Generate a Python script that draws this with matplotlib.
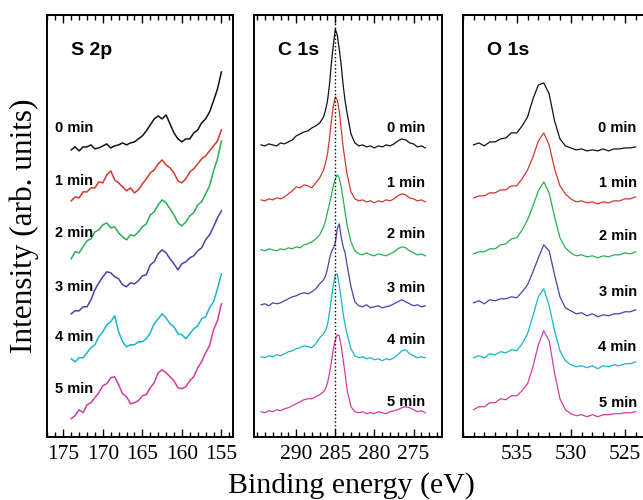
"""Stacked XPS core-level spectra (S 2p, C 1s, O 1s) versus sputter time."""

import matplotlib.pyplot as plt
from matplotlib.ticker import MultipleLocator

plt.rcParams["font.family"] = ["Liberation Serif", "DejaVu Serif"]

TIMES = ["0 min", "1 min", "2 min", "3 min", "4 min", "5 min"]
COLOURS = ["#111111", "#d0392e", "#2aae52", "#4545a8", "#17b5cc", "#d83a9e"]

# S 2p region
S2P_ENERGY = [174.0, 173.5, 173.0, 172.5, 172.0, 171.5, 171.0, 170.5, 170.0, 169.5,
              169.0, 168.5, 168.0, 167.5, 167.0, 166.5, 166.0, 165.5, 165.0, 164.5,
              164.0, 163.5, 163.0, 162.5, 162.0, 161.5, 161.0, 160.5, 160.0, 159.5,
              159.0, 158.5, 158.0, 157.5, 157.0, 156.5, 156.0, 155.5, 155.0]
S2P_0 = [287, 290, 286, 290, 290, 292, 288, 289, 291, 293, 289, 291, 292, 294, 292, 294, 295, 298, 301, 306,
         312, 318, 321, 318, 322, 313, 304, 298, 295, 298, 298, 304, 307, 314, 318, 325, 336, 348, 365]
S2P_1 = [236, 240, 239, 245, 245, 249, 249, 255, 254, 262, 266, 257, 254, 250, 246, 249, 244, 247, 253, 258,
         264, 267, 273, 277, 272, 269, 264, 256, 254, 258, 265, 268, 273, 278, 281, 286, 291, 296, 307]
S2P_2 = [178, 185, 184, 190, 196, 198, 205, 207, 212, 214, 209, 210, 204, 200, 197, 202, 201, 205, 210, 213,
         222, 225, 232, 237, 234, 228, 222, 214, 211, 215, 221, 224, 232, 235, 243, 251, 266, 278, 296]
S2P_3 = [123, 126, 126, 130, 130, 137, 147, 154, 160, 165, 164, 160, 158, 152, 150, 154, 153, 156, 161, 162,
         172, 175, 183, 187, 184, 178, 173, 167, 173, 175, 179, 181, 186, 189, 197, 202, 210, 219, 226]
S2P_4 = [78, 75, 79, 79, 84, 89, 92, 100, 105, 112, 115, 121, 105, 95, 90, 92, 92, 95, 95, 98,
         104, 113, 118, 123, 119, 113, 110, 103, 102, 98, 103, 108, 111, 118, 120, 129, 135, 148, 163]
S2P_5 = [18, 21, 27, 24, 32, 34, 39, 44, 51, 53, 59, 60, 52, 43, 40, 33, 34, 36, 41, 42,
         49, 54, 64, 67, 64, 60, 56, 49, 48, 50, 56, 60, 69, 75, 84, 91, 107, 116, 133]

# C 1s region
C1S_ENERGY = [294.5, 294.0, 293.5, 293.0, 292.5, 292.0, 291.5, 291.0, 290.5, 290.0,
              289.5, 289.0, 288.5, 288.0, 287.5, 287.0, 286.5,
              286.25, 286.0, 285.75, 285.5, 285.25, 285.0, 284.75, 284.5, 284.25, 284.0, 283.75,
              283.5, 283.0, 282.5, 282.0, 281.5, 281.0, 280.5, 280.0, 279.5, 279.0,
              278.5, 278.0, 277.5, 277.0, 276.5, 276.0, 275.5, 275.0, 274.5, 274.0, 273.5]
C1S_0 = [292, 291, 293, 292, 291, 294, 293, 295, 297, 301, 303, 305, 306, 309, 311, 314, 320,
         327, 336, 352, 374, 392, 408, 402, 388, 372, 352, 336,
         324, 303, 294, 291, 292, 290, 291, 289, 291, 290, 292, 291, 293, 296, 298, 297, 294, 293, 290, 291, 289]
C1S_1 = [237, 236, 238, 237, 239, 238, 240, 243, 246, 250, 249, 252, 251, 249, 254, 259, 267,
         274, 283, 298, 316, 331, 340, 337, 326, 308, 290, 276,
         263, 245, 238, 236, 237, 235, 236, 234, 236, 235, 237, 236, 238, 241, 243, 242, 239, 238, 236, 237, 235]
C1S_2 = [187, 186, 188, 187, 186, 188, 187, 189, 188, 190, 189, 192, 193, 195, 198, 202, 210,
         216, 225, 233, 242, 251, 258, 262, 259, 250, 238, 225,
         212, 195, 186, 183, 182, 184, 182, 181, 183, 182, 181, 183, 185, 188, 190, 189, 186, 184, 182, 183, 181]
C1S_3 = [132, 133, 131, 134, 133, 134, 136, 138, 140, 141, 143, 144, 143, 145, 148, 153, 157,
         161, 168, 178, 185, 189, 194, 208, 213, 200, 190, 184,
         172, 150, 135, 131, 130, 132, 129, 130, 131, 129, 130, 131, 133, 135, 137, 135, 133, 131, 132, 130, 131]
C1S_4 = [80, 79, 81, 80, 82, 81, 83, 85, 86, 88, 89, 91, 90, 89, 93, 99, 103,
         106, 112, 124, 138, 152, 162, 163, 152, 138, 123, 112,
         103, 88, 81, 79, 80, 78, 79, 77, 78, 76, 78, 77, 79, 82, 86, 87, 83, 81, 79, 80, 79]
C1S_5 = [25, 24, 26, 25, 27, 26, 28, 29, 31, 33, 35, 37, 38, 38, 40, 42, 45,
         48, 54, 63, 75, 88, 97, 102, 101, 91, 77, 63,
         47, 30, 25, 24, 25, 23, 24, 23, 25, 24, 23, 25, 26, 27, 29, 30, 29, 27, 25, 26, 24]

# O 1s region
O1S_ENERGY = [539.0, 538.5, 538.0, 537.5, 537.0, 536.5, 536.0, 535.5, 535.0, 534.5,
              534.0, 533.5, 533.0, 532.5, 532.0, 531.5, 531.0, 530.5, 530.0, 529.5,
              529.0, 528.5, 528.0, 527.5, 527.0, 526.5, 526.0, 525.5, 525.0, 524.5, 524.0]
O1S_0 = [292, 294, 291, 295, 295, 298, 299, 304, 304, 311, 320, 338, 352, 354, 343, 316, 298, 291, 289, 287,
         288, 286, 287, 286, 288, 286, 288, 288, 289, 289, 290]
O1S_1 = [239, 241, 241, 244, 244, 247, 247, 251, 251, 258, 267, 280, 296, 304, 292, 268, 251, 243, 238, 235,
         236, 234, 235, 233, 235, 234, 236, 236, 238, 238, 240]
O1S_2 = [183, 185, 185, 188, 188, 192, 193, 198, 199, 207, 217, 231, 246, 255, 244, 220, 199, 189, 184, 181,
         182, 180, 181, 179, 181, 180, 182, 182, 184, 183, 185]
O1S_3 = [134, 136, 133, 137, 136, 138, 138, 140, 139, 145, 152, 165, 179, 192, 186, 162, 140, 129, 126, 123,
         124, 121, 123, 120, 122, 121, 123, 123, 125, 125, 127]
O1S_4 = [79, 81, 79, 83, 82, 85, 84, 87, 86, 93, 103, 121, 140, 148, 131, 106, 86, 76, 72, 70,
         71, 69, 71, 68, 71, 70, 72, 71, 73, 73, 75]
O1S_5 = [27, 30, 30, 34, 34, 38, 37, 41, 41, 46, 53, 70, 92, 106, 96, 64, 38, 27, 23, 21,
         22, 20, 22, 20, 22, 22, 23, 23, 24, 24, 25]


def plot_panel(ax, energy, spectra, title, xlim, ticks, label_x, label_ys, label_ha, lw=0.9):
    for spec, colour in zip(spectra, COLOURS):
        ax.plot(energy, spec, color=colour, lw=lw)
    for text, y in zip(TIMES, label_ys):
        ax.text(label_x, y, text, ha=label_ha, va="baseline", fontsize=10.5,
                fontweight="bold", family="Liberation Sans")
    ax.text(0.13, 0.905, title, transform=ax.transAxes, fontsize=14,
            fontweight="bold", family="Liberation Sans", va="baseline")

    ax.set_xlim(*xlim)
    ax.set_ylim(0, 422)
    ax.set_yticks([])
    ax.set_xticks(ticks)
    ax.xaxis.set_minor_locator(MultipleLocator(1))
    ax.tick_params(axis="x", which="both", direction="in", top=True, bottom=True,
                   labelsize=15.5, pad=6, width=1)
    ax.tick_params(axis="x", which="major", length=6)
    ax.tick_params(axis="x", which="minor", length=3.5)
    for spine in ax.spines.values():
        spine.set_linewidth(1.4)


def main():
    fig = plt.figure(figsize=(6.43, 5.0), dpi=100)
    bottom, height = 0.1266, 0.8434
    ax_s = fig.add_axes([0.0726, bottom, 0.2902, height])
    ax_c = fig.add_axes([0.3950, bottom, 0.2919, height])
    ax_o = fig.add_axes([0.7196, bottom, 0.2908, height])

    plot_panel(ax_s, S2P_ENERGY, [S2P_0, S2P_1, S2P_2, S2P_3, S2P_4, S2P_5], "S 2p",
               (177.1, 153.5), [175, 170, 165, 160, 155], 176.05,
               [305, 252, 200, 146, 96, 44], "left", lw=1.1)
    plot_panel(ax_c, C1S_ENERGY, [C1S_0, C1S_1, C1S_2, C1S_3, C1S_4, C1S_5], "C 1s",
               (295.4, 271.4), [290, 285, 280, 275], 273.5,
               [305, 250, 199, 145, 93, 31], "right")
    plot_panel(ax_o, O1S_ENERGY, [O1S_0, O1S_1, O1S_2, O1S_3, O1S_4, O1S_5], "O 1s",
               (540.0, 522.7), [535, 530, 525], 523.9,
               [305, 250, 197, 141, 86, 30], "right")

    # C 1s reference position
    ax_c.axvline(285, color="k", ls=":", lw=1.0)

    fig.text(0.037, 0.548, "Intensity (arb. units)", rotation=90, ha="center", va="center",
             fontsize=22.5)
    fig.text(0.546, 0.014, "Binding energy (eV)", ha="center", va="baseline", fontsize=21.5)

    fig.savefig("out.png", dpi=100)


if __name__ == "__main__":
    main()
